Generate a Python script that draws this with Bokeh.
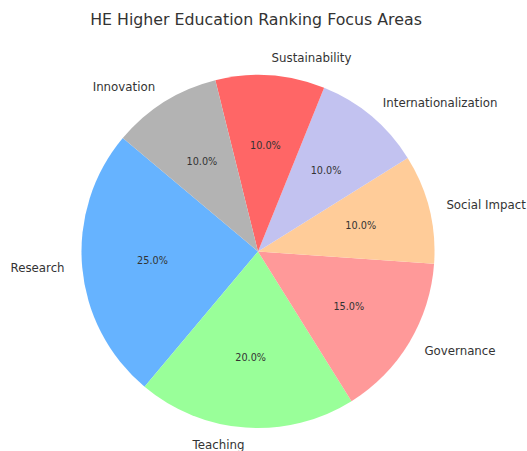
import math
from bokeh.plotting import figure
from bokeh.models import Range1d, ColumnDataSource
from bokeh.core.properties import value
from bokeh.embed import file_html
from bokeh.resources import INLINE

title = "HE Higher Education Ranking Focus Areas"
categories = ["Research", "Teaching", "Governance", "Social Impact",
              "Internationalization", "Sustainability", "Innovation"]
values = [25, 20, 15, 10, 10, 10, 10]
colors = ["#66b3ff", "#99ff99", "#ff9999", "#ffcc99", "#c2c2f0", "#ff6666", "#b3b3b3"]
start_deg = 140.0

total = float(sum(values))
starts, ends, mids = [], [], []
acc = start_deg
for v in values:
    s = acc
    e = acc + 360.0 * v / total
    starts.append(math.radians(s))
    ends.append(math.radians(e))
    mids.append(math.radians((s + e) / 2))
    acc = e

pct_text = [f"{v / total * 100:.1f}%" for v in values]
pct_x = [0.6 * math.cos(m) for m in mids]
pct_y = [0.6 * math.sin(m) for m in mids]
lab_x = [1.1 * math.cos(m) for m in mids]
lab_y = [1.1 * math.sin(m) for m in mids]
lab_align = ["left" if x > 0 else "right" for x in lab_x]

W, H = 527, 451
R = 176.5
cx, cy = 257.5, 251
p = figure(width=W, height=H, output_backend="svg", toolbar_location=None,
           x_range=Range1d(-cx / R, (W - cx) / R),
           y_range=Range1d(-(H - cy) / R, cy / R),
           min_border=0)
p.axis.visible = False
p.grid.visible = False
p.outline_line_color = None

src = ColumnDataSource(dict(start=starts, end=ends, color=colors,
                            px=pct_x, py=pct_y, pt=pct_text,
                            lx=lab_x, ly=lab_y, lt=categories, la=lab_align))
p.wedge(x=0, y=0, radius=1.0, start_angle="start", end_angle="end",
        fill_color="color", line_color=None, source=src)
p.text(x="px", y="py", text="pt", source=src, text_align="center",
       text_baseline="middle", text_font=value("DejaVu Sans"),
       text_font_size="9.7px", text_color="#333333")
p.text(x="lx", y="ly", text="lt", source=src, text_align="la",
       text_baseline="middle", text_font=value("DejaVu Sans"),
       text_font_size="11.8px", text_color="#333333")
p.text(x=[(255.5 - 257.5) / R], y=[(251 - 19) / R], text=[title],
       text_align="center", text_baseline="middle",
       text_font=value("DejaVu Sans"), text_font_size="15.8px",
       text_color="#333333")

open("out.html", "w").write(file_html(p, INLINE))
